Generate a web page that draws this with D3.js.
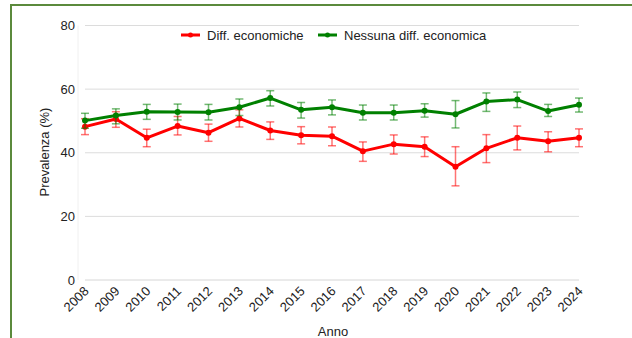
<!DOCTYPE html>
<html><head><meta charset="utf-8">
<script src="https://cdn.jsdelivr.net/npm/d3@7"></script>
<style>
html,body{margin:0;padding:0;background:#fff;}
svg{display:block;font-family:"Liberation Sans",Arial,sans-serif;}
</style></head>
<body>
<svg id="chart" width="632" height="338"></svg>
<script>
const years = [2008,2009,2010,2011,2012,2013,2014,2015,2016,2017,2018,2019,2020,2021,2022,2023,2024];
const seriesNames = ["Diff. economiche","Nessuna diff. economica"];
const diffValues = [48.2,50.6,44.7,48.4,46.3,50.8,47.0,45.5,45.2,40.5,42.7,41.9,35.6,41.4,44.7,43.6,44.7];
const diffLow    = [45.7,48.0,41.9,45.6,43.6,48.1,44.2,42.8,42.2,37.3,39.6,38.8,29.6,36.9,40.9,40.3,41.9];
const diffHigh   = [50.7,52.9,47.4,51.4,49.0,53.5,49.7,48.2,48.1,43.4,45.6,45.0,41.9,45.7,48.4,46.6,47.5];
const nessValues = [50.1,51.7,52.9,52.8,52.7,54.3,57.2,53.5,54.3,52.6,52.6,53.2,52.1,56.1,56.7,53.1,55.1];
const nessLow    = [47.7,49.1,50.5,50.3,50.3,51.7,54.7,50.9,51.9,50.3,50.3,51.2,47.8,53.0,54.2,51.4,52.8];
const nessHigh   = [52.4,53.8,55.2,55.3,55.2,56.9,59.5,55.8,56.6,55.0,55.0,55.4,56.4,58.8,59.1,55.2,57.2];
const yTicks = [0,20,40,60,80];
const colors = ["#ff0000","#008000"];

const svg = d3.select("#chart");
// frame
svg.append("path").attr("d","M11,338 L11,5 L632,5").attr("fill","none")
  .attr("stroke","#5b8a3c").attr("stroke-width",2);

const x = d3.scalePoint().domain(years).range([85,579]);
const y = d3.scaleLinear().domain([0,80]).range([280,25.5]);

// grid
svg.append("g").selectAll("line").data(yTicks).join("line")
  .attr("x1",85).attr("x2",579).attr("y1",d=>y(d)).attr("y2",d=>y(d))
  .attr("stroke",d=>d===0?"#d6d6d6":"#dcdcdc").attr("stroke-width",1);
svg.append("line").attr("x1",78).attr("x2",78).attr("y1",y(80)).attr("y2",y(0))
  .attr("stroke","#f0f0f0").attr("stroke-width",1);

// y axis labels
const yAxis = d3.axisLeft(y).tickValues(yTicks).tickSize(0).tickPadding(0);
const ya = svg.append("g").attr("transform","translate(75,0)").call(yAxis);
ya.select(".domain").remove();
ya.selectAll("text").attr("font-size",13).attr("fill","#222").attr("font-family","Liberation Sans, Arial, sans-serif");

// x axis labels
const xAxis = d3.axisBottom(x).tickSize(0).tickPadding(0);
const xa = svg.append("g").attr("transform","translate(0,"+y(0)+")").call(xAxis);
xa.select(".domain").remove();
xa.selectAll("text").attr("font-size",13).attr("fill","#222")
  .attr("font-family","Liberation Sans, Arial, sans-serif")
  .attr("text-anchor","end").attr("dy",null).attr("y",0)
  .attr("transform","translate(4,12) rotate(-45)");

// axis titles
svg.append("text").attr("x",333).attr("y",336).attr("text-anchor","middle")
  .attr("font-size",13).attr("fill","#222").text("Anno");
svg.append("text").attr("transform","translate(49,152) rotate(-90)").attr("text-anchor","middle")
  .attr("font-size",13).attr("fill","#222").text("Prevalenza (%)");

const series = [
  {vals:diffValues, lo:diffLow, hi:diffHigh, color:colors[0]},
  {vals:nessValues, lo:nessLow, hi:nessHigh, color:colors[1]}
];
const line = d3.line().x((d,i)=>x(years[i])).y(d=>y(d));
series.forEach(s=>{
  const g = svg.append("g");
  // error bars
  const eb = g.append("g").attr("stroke",s.color).attr("stroke-opacity",0.55).attr("stroke-width",1.5);
  years.forEach((yr,i)=>{
    eb.append("line").attr("x1",x(yr)).attr("x2",x(yr)).attr("y1",y(s.lo[i])).attr("y2",y(s.hi[i]));
    eb.append("line").attr("x1",x(yr)-4).attr("x2",x(yr)+4).attr("y1",y(s.lo[i])).attr("y2",y(s.lo[i]));
    eb.append("line").attr("x1",x(yr)-4).attr("x2",x(yr)+4).attr("y1",y(s.hi[i])).attr("y2",y(s.hi[i]));
  });
  g.append("path").attr("d",line(s.vals)).attr("fill","none").attr("stroke",s.color)
    .attr("stroke-width",3).attr("stroke-linejoin","round");
  g.selectAll("circle").data(s.vals).join("circle")
    .attr("cx",(d,i)=>x(years[i])).attr("cy",d=>y(d)).attr("r",3).attr("fill",s.color);
});

// legend
const leg = [{x:181,tx:207,name:seriesNames[0],c:colors[0]},{x:318,tx:344,name:seriesNames[1],c:colors[1]}];
leg.forEach(l=>{
  svg.append("line").attr("x1",l.x).attr("x2",l.x+19).attr("y1",35).attr("y2",35)
    .attr("stroke",l.c).attr("stroke-width",3);
  svg.append("circle").attr("cx",l.x+9.5).attr("cy",35).attr("r",2.5).attr("fill",l.c);
  svg.append("text").attr("x",l.tx).attr("y",39.5).attr("font-size",13).attr("fill","#222").text(l.name);
});
</script>
</body></html>
